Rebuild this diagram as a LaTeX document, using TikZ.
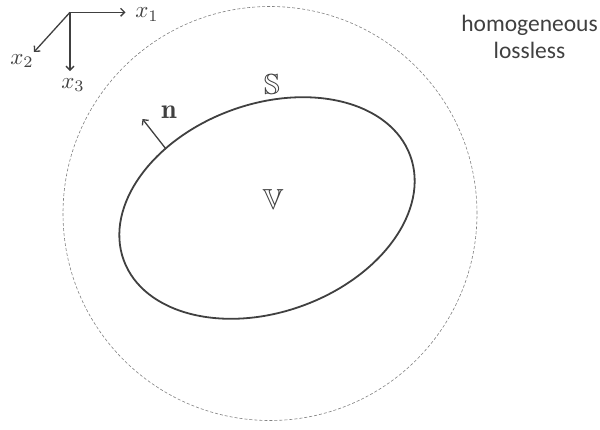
\documentclass[tikz,border=0pt]{standalone}
\usepackage{amssymb}
\usepackage{fontspec}
\newfontfamily\carlito{Carlito}
\usetikzlibrary{arrows.meta}
\definecolor{ink}{HTML}{404040}
\definecolor{faint}{HTML}{808080}
\tikzset{
  axis/.style={draw=ink, line width=1.3pt, -{Straight Barb[length=4pt,width=8pt,line width=1.3pt]}},
  lbl/.style={text=ink, inner sep=0pt, font=\normalsize, scale=2.3},
  big/.style={text=ink, inner sep=0pt, font=\normalsize, scale=2.9},
  bold/.style={text=ink, inner sep=0pt, font=\normalsize, scale=2.8},
  outline/.style={draw=ink, line width=1.8pt},
  region/.style={draw=faint, line width=0.6pt, dash pattern=on 3pt off 2pt},
  note/.style={text=ink, inner sep=0pt, align=center, font=\carlito\fontsize{23.5}{27}\selectfont}
}
\begin{document}
\begin{tikzpicture}[x=1pt,y=1pt]
\useasboundingbox (0,0) rectangle (600,-429);
% outer dashed region
\node[region, circle, minimum size=414pt, inner sep=0pt] (outer) at (270,-213.5) {};
% surface S enclosing volume V
\draw[outline, rotate around={20:(267,-208)}] (267,-208) ellipse [x radius=152.5, y radius=104];
\node[big] (V) at (273,-200) {$\mathbb{V}$};
\node[big] (S) at (272,-85) {$\mathbb{S}$};
% normal vector
\coordinate (nbase) at (166,-149);
\coordinate (ntip) at (142.5,-119);
\draw[axis] (nbase) -- (ntip);
\node[bold] (n) at (169,-112) {$\mathbf{n}$};
% axes
\coordinate (O) at (70,-12.3);
\coordinate (e1) at (125.5,-12.3);
\coordinate (e2) at (34,-52);
\coordinate (e3) at (70,-71);
\draw[axis] (O) -- (e1);
\draw[axis] (O) -- (e2);
\draw[axis] (O) -- (e3);
\node[lbl] (x1) at (147,-14.5) {$x_1$};
\node[lbl] (x2) at (22,-61) {$x_2$};
\node[lbl] (x3) at (73,-85) {$x_3$};
% medium note
\node[note] (medium) at (529.5,-37) {homogeneous\\lossless};
\end{tikzpicture}
\end{document}
